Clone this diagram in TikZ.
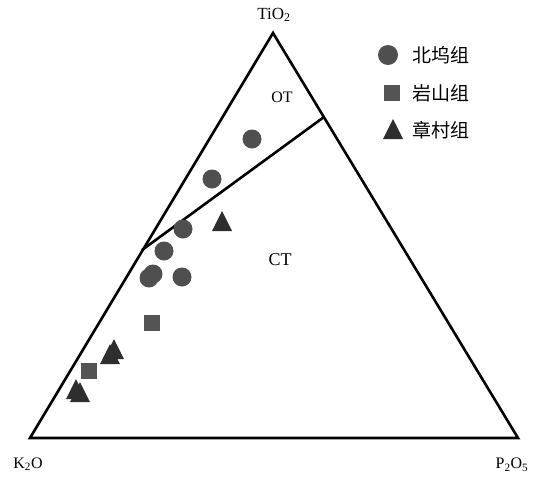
\documentclass[tikz,border=0pt]{standalone}
\usepackage{fontspec}
\setmainfont{Liberation Serif}
\newfontfamily\cjk{Noto Sans CJK SC}
\definecolor{dotgray}{rgb}{0.31, 0.31, 0.31}
\definecolor{boxgray}{rgb}{0.33, 0.33, 0.33}
\definecolor{tridark}{rgb}{0.18, 0.18, 0.18}

\begin{document}
\begin{tikzpicture}[x=1pt,y=-1pt,
        edge/.style={draw=black,line width=2.6pt,line join=miter},
        label/.style={font=\fontsize{16}{16}\selectfont,inner sep=0pt},
        legend/.style={font=\cjk\fontsize{19}{19}\selectfont,anchor=west,inner sep=0pt}]
        \useasboundingbox (0,0) rectangle (533,477);
        \fill[white] (0,0) rectangle (533,477);

        % corners of the diagram
        \coordinate (K) at (30,438);
        \coordinate (P) at (518,438);
        \coordinate (T) at (273,33);
        \coordinate (lo) at (142,250);
        \coordinate (hi) at (324,117);
        \draw[edge] (K) -- (P) -- (T) -- cycle;
        \draw[edge] (lo) -- (hi);

        % axis and field labels
        \node[label,font=\fontsize{17}{17}\selectfont] (ti) at (274,15) {TiO\textsubscript{2}};
        \node[label] (ko) at (28,464) {K\textsubscript{2}O};
        \node[label] (po) at (512,465) {P\textsubscript{2}O\textsubscript{5}};
        \node[label] (ot) at (282,97) {OT};
        \node[label,font=\fontsize{18}{18}\selectfont] (ct) at (280,260) {CT};

        % circles
        \foreach \x/\y in {252/139,212/179,183/229,164/251,149/278,153/274,182/277}{
            \fill[dotgray] (\x,\y) circle (9.5);
        }
        % squares
        \foreach \x/\y in {152/323,89/371}{
            \fill[boxgray] (\x-8,\y-8) rectangle (\x+8,\y+8);
        }
        % triangles
        \foreach \x/\y in {222/222,110/355,114/350,76/390,80/393}{
            \fill[tridark] (\x-10,\y+9) -- (\x+10,\y+9) -- (\x,\y-11) -- cycle;
        }

        % legend
        \fill[dotgray] (388,55) circle (10);
        \fill[boxgray] (384,85) rectangle (400,101);
        \fill[tridark] (383,139) -- (403,139) -- (393,119) -- cycle;
        \node[legend] (bw) at (412,55) {北坞组};
        \node[legend] (ys) at (412,93) {岩山组};
        \node[legend] (zc) at (412,130) {章村组};
    \end{tikzpicture}
\end{document}
